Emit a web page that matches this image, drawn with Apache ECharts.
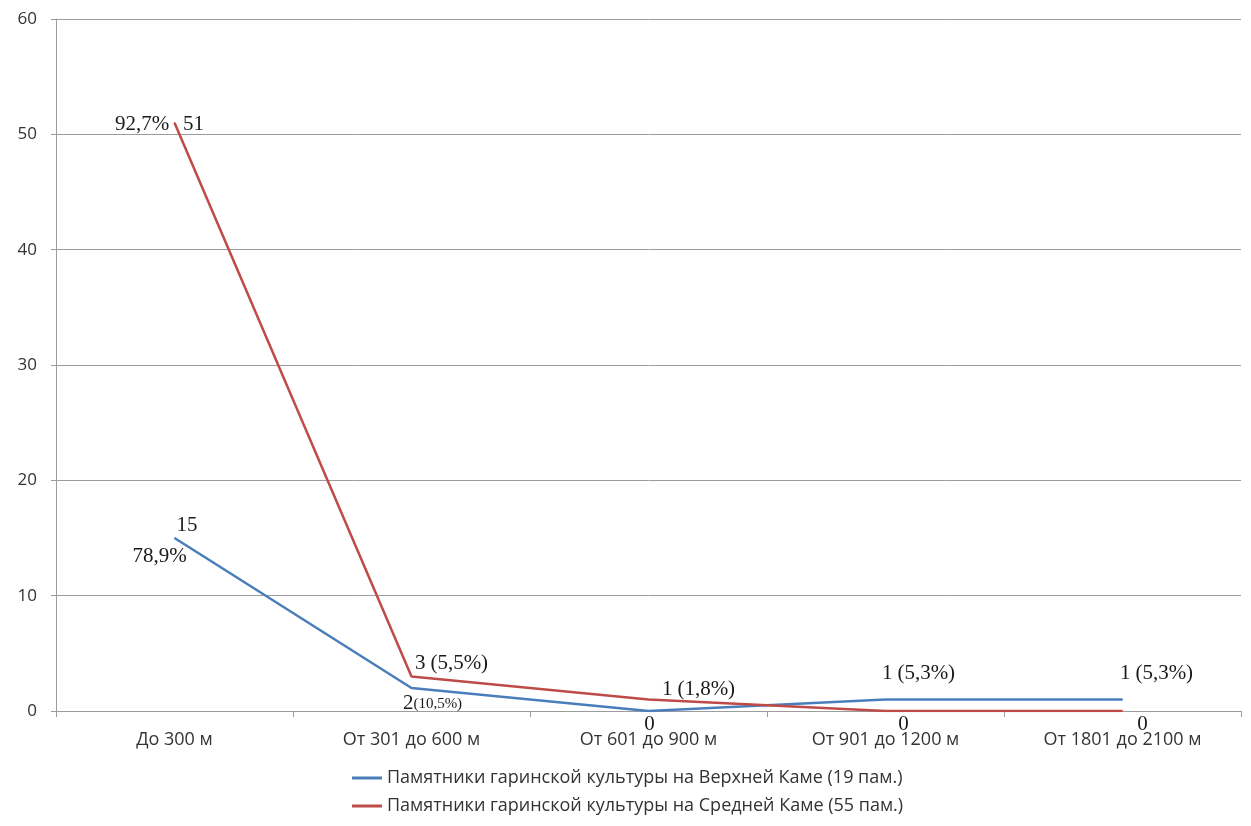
<!DOCTYPE html>
<html>
<head>
<meta charset="utf-8">
<script src="https://cdn.jsdelivr.net/npm/echarts@6/dist/echarts.min.js"></script>
<style>html,body{margin:0;padding:0;background:#fff;}#c{width:1251px;height:826px;}</style>
</head>
<body>
<div id="c"></div>
<script>
const categories = ['До 300 м', 'От 301 до 600 м', 'От 601 до 900 м', 'От 901 до 1200 м', 'От 1801 до 2100 м'];
const upperName = 'Памятники гаринской культуры на Верхней Каме (19 пам.)';
const middleName = 'Памятники гаринской культуры на Средней Каме (55 пам.)';
const upperKama = [15, 2, 0, 1, 1];
const middleKama = [51, 3, 1, 0, 0];
const upperShares = ['78,9%', '10,5%', '', '5,3%', '5,3%'];
const middleShares = ['92,7%', '5,5%', '1,8%', '', ''];
const yMin = 0, yMax = 60, yStep = 10;

const BLUE = '#4a7ebb', RED = '#be4b48';
const labelFont = '"Liberation Serif", "Times New Roman", serif';
const axisFont = '"Open Sans", Lato, sans-serif';
const GRID_GRAY = '#9c9c9c';

const rich = {
  n: {fontFamily: labelFont, fontSize: 21, color: '#1a1a1a'},
  s: {fontFamily: labelFont, fontSize: 15, color: '#1a1a1a'},
  g1: {width: 14},
  g2: {width: 44},
  w: {width: 5}
};

// label layout per point (styles only)
const upperLayout = [
  {fmt: (v, s) => '{g2|}{n|' + v + '}\n{n|' + s + '}', align: 'left', offset: [-42, 3], lh: 31},
  {fmt: (v, s) => '{n|' + v + '}{s|(' + s + ')}', offset: [21, 16]},
  {fmt: (v) => '{n|' + v + '}', offset: [1, 13]},
  {fmt: (v, s) => '{n|' + v + '}{w|}{n|(' + s + ')}', offset: [33, -26]},
  {fmt: (v, s) => '{n|' + v + '}{w|}{n|(' + s + ')}', offset: [34, -26]}
];
const middleLayout = [
  {fmt: (v, s) => '{n|' + s + '}{g1|}{n|' + v + '}', offset: [-15, 2]},
  {fmt: (v, s) => '{n|' + v + '}{w|}{n|(' + s + ')}', offset: [40, -13]},
  {fmt: (v, s) => '{n|' + v + '}{w|}{n|(' + s + ')}', offset: [50, -10]},
  {fmt: (v) => '{n|' + v + '}', offset: [18, 13]},
  {fmt: (v) => '{n|' + v + '}', offset: [20, 13]}
];

function buildData(values, shares, layout) {
  return values.map((v, i) => ({
    value: v,
    label: {
      show: true,
      position: 'inside',
      offset: layout[i].offset,
      align: layout[i].align || 'center',
      verticalAlign: 'middle',
      lineHeight: layout[i].lh || 22,
      formatter: layout[i].fmt(v, shares[i]),
      rich: rich
    }
  }));
}

const chart = echarts.init(document.getElementById('c'), null, {renderer: 'canvas'});
chart.setOption({
  animation: false,
  backgroundColor: '#ffffff',
  grid: {left: 56, right: 10, top: 19, bottom: 115, containLabel: false},
  legend: {
    orient: 'vertical',
    left: 347,
    top: 764,
    itemGap: 10,
    itemWidth: 30,
    itemHeight: 3,
    icon: 'rect',
    textStyle: {fontFamily: axisFont, fontSize: 18, color: '#333333'},
    data: [upperName, middleName]
  },
  xAxis: {
    type: 'category',
    data: categories,
    boundaryGap: true,
    axisLine: {lineStyle: {color: GRID_GRAY, width: 1}},
    axisTick: {show: true, length: 6, lineStyle: {color: GRID_GRAY}},
    axisLabel: {fontFamily: axisFont, fontSize: 18, color: '#333333', margin: 20},
    splitLine: {show: false}
  },
  yAxis: {
    type: 'value',
    min: yMin, max: yMax, interval: yStep,
    axisLine: {show: true, lineStyle: {color: GRID_GRAY, width: 1}},
    axisTick: {show: true, length: 5, lineStyle: {color: GRID_GRAY}},
    axisLabel: {fontFamily: axisFont, fontSize: 17, color: '#333333', margin: 19},
    splitLine: {show: true, lineStyle: {color: GRID_GRAY, width: 1}}
  },
  series: [
    {
      name: upperName,
      type: 'line',
      data: buildData(upperKama, upperShares, upperLayout),
      symbol: 'circle',
      symbolSize: 1,
      itemStyle: {color: BLUE},
      lineStyle: {color: BLUE, width: 2.5},
      z: 3
    },
    {
      name: middleName,
      type: 'line',
      data: buildData(middleKama, middleShares, middleLayout),
      symbol: 'circle',
      symbolSize: 1,
      itemStyle: {color: RED},
      lineStyle: {color: RED, width: 2.5},
      z: 4
    }
  ]
});
</script>
</body>
</html>
